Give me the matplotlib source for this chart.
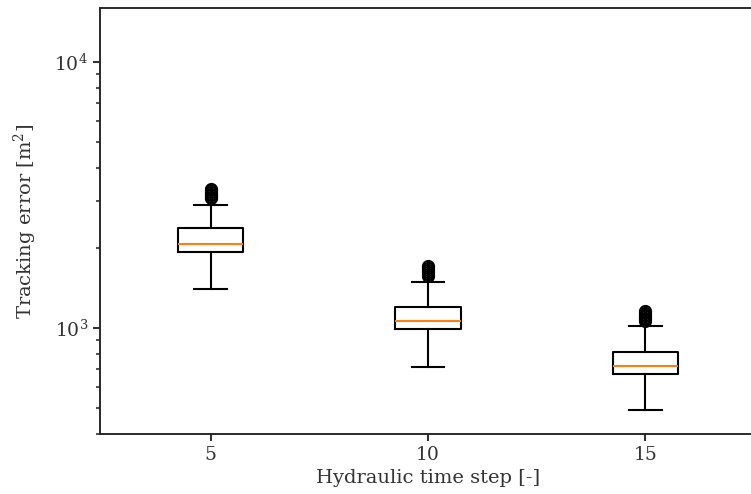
import matplotlib
matplotlib.use("Agg")
import matplotlib.pyplot as plt

plt.rcParams['font.family'] = ['DejaVu Serif']
plt.rcParams['mathtext.fontset'] = 'dejavuserif'

positions = [5, 10, 15]
labels = ["5", "10", "15"]
whislo = [1402, 713, 492]
q1 = [1932, 991, 671]
med = [2069, 1062, 720]
q3 = [2377, 1199, 812]
whishi = [2896, 1489, 1017]
fliers = [
    [3080, 3120, 3160, 3200, 3250, 3300, 3350],
    [1570, 1600, 1630, 1660, 1690, 1710],
    [1065, 1080, 1095, 1110, 1125, 1140, 1160],
]

stats = []
for i in range(len(positions)):
    stats.append(dict(med=med[i], q1=q1[i], q3=q3[i], whislo=whislo[i],
                      whishi=whishi[i], fliers=fliers[i], label=labels[i]))

lw = 1.5
txt = '#333333'
fig = plt.figure(figsize=(7.51, 4.94), dpi=100)
ax = fig.add_axes([100/751, 1-434/494, 656/751, 426/494])
ax.bxp(stats, positions=positions, widths=1.5,
       boxprops=dict(linewidth=lw),
       whiskerprops=dict(linewidth=lw),
       capprops=dict(linewidth=lw),
       medianprops=dict(linewidth=lw, color='#ff7f0e'),
       flierprops=dict(marker='o', markersize=8, markeredgewidth=lw,
                       markeredgecolor='black', markerfacecolor='none'))
ax.set_yscale('log')
ax.set_ylim(400, 16000)
ax.set_xlim(2.45, 17.55)
ax.set_xticks(positions)
ax.set_xticklabels(labels)
ax.set_xlabel("Hydraulic time step [-]", fontsize=14, color=txt)
ax.set_ylabel("Tracking error [m$^2$]", fontsize=14, color=txt, labelpad=11)
ax.tick_params(labelsize=13.5, width=lw, length=5, labelcolor=txt, color='#333333')
ax.tick_params(which='minor', width=1.2, length=3, color='#333333')
for s in ax.spines.values():
    s.set_linewidth(lw * 0.9)
    s.set_color('#222222')
fig.savefig("out.png", dpi=100)
